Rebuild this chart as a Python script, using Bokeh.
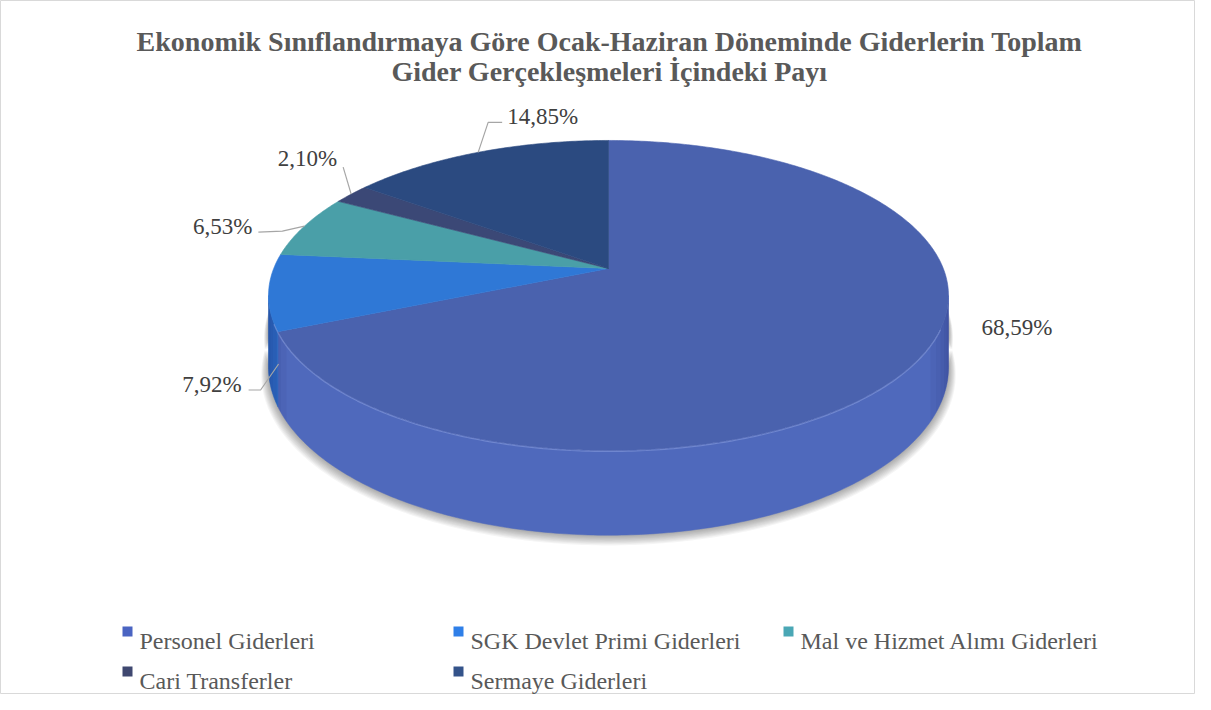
import math
from bokeh.plotting import figure
from bokeh.models import Range1d, ColumnDataSource
from bokeh.core.properties import value
from bokeh.embed import file_html
from bokeh.resources import INLINE

# ---------------- data ----------------
categories = ["Personel Giderleri", "SGK Devlet Primi Giderleri", "Mal ve Hizmet Alımı Giderleri",
              "Cari Transferler", "Sermaye Giderleri"]
shares = [68.59, 7.92, 6.53, 2.10, 14.85]
labels = ["68,59%", "7,92%", "6,53%", "2,10%", "14,85%"]
title_lines = ["Ekonomik Sınıflandırmaya Göre Ocak-Haziran Döneminde Giderlerin Toplam",
               "Gider Gerçekleşmeleri İçindeki Payı"]

# ---------------- style ----------------
top_colors = ["#4a62ae", "#2f78d6", "#4a9fa8", "#3b4876", "#2b4a80"]
side_colors = ["#4f69bc", "#2c6cc6", "#418f98", "#343f68", "#254273"]
legend_colors = ["#4a64c2", "#2f7fe8", "#4aa7b5", "#3f4870", "#34538a"]
SERIF = "Liberation Serif"

W, H = 1195, 694
p = figure(width=W, height=H, x_range=Range1d(0, W), y_range=Range1d(H, 0),
           output_backend="svg", toolbar_location=None, min_border=0)
p.axis.visible = False
p.grid.visible = False
p.outline_line_color = "#d9d9d9"
p.outline_line_width = 1
p.background_fill_color = "white"
p.border_fill_color = "white"

# perspective projection of the tilted pie
CX, CY = 608.0, 268.0
K = 0.174
A = 334.8
B = 150.3
D = 70.0


def proj(theta, drop=0.0, grow=0.0):
    t = math.radians(theta)
    u, v = math.sin(t), math.cos(t)
    s = 1.0 / (1.0 + K * v)
    x = CX + (A + grow) * u * s
    y = CY - (B + grow * 0.45) * v * s + D * s * drop
    return x, y


def arc(a, b, drop=0.0, grow=0.0, n=None):
    if n is None:
        n = max(4, int(abs(b - a) * 1.5))
    return [proj(a + (b - a) * i / n, drop, grow) for i in range(n + 1)]


total = sum(shares)
bounds = [0.0]
for s_ in shares:
    bounds.append(bounds[-1] + 360.0 * s_ / total)

# soft shadow
for g in range(9, 0, -1):
    pts = arc(85, 275, 1.0, grow=g * 0.8) + arc(275, 85, 0.5, grow=g * 0.5)
    p.patch([q[0] for q in pts], [q[1] + g * 0.7 for q in pts], fill_color="black",
            fill_alpha=0.04, line_color=None)

# side walls
vis_a, vis_b = 100.0, 260.0
for i in range(len(shares)):
    a = max(bounds[i], vis_a)
    b = min(bounds[i + 1], vis_b)
    if b <= a:
        continue
    pts = arc(a, b, 0.0) + arc(b, a, 1.0)
    p.patch([q[0] for q in pts], [q[1] for q in pts], fill_color=side_colors[i],
            line_color=side_colors[i], line_width=0.5)
    for step in range(6):
        for (ea, eb) in [(vis_a, vis_a + 3 + step * 3), (vis_b - 3 - step * 3, vis_b)]:
            ra, rb = max(a, ea), min(b, eb)
            if rb > ra:
                pts3 = arc(ra, rb, 0.0) + arc(rb, ra, 1.0)
                p.patch([q[0] for q in pts3], [q[1] for q in pts3], fill_color="#1a2a60",
                        fill_alpha=0.06, line_color=None)

# top faces
for i in range(len(shares)):
    pts = [(CX, CY)] + arc(bounds[i], bounds[i + 1], 0.0)
    p.patch([q[0] for q in pts], [q[1] for q in pts], fill_color=top_colors[i],
            line_color=top_colors[i], line_width=0.6)

edge = arc(112, 250, 0.0)
p.line([q[0] for q in edge], [q[1] + 1.0 for q in edge], line_color="#8fa3e2", line_alpha=0.5, line_width=1.2)

# ---------------- data labels ----------------
label_layout = [
    dict(drop=0.0, leader=[], text=(64, -33), align="left"),
    dict(drop=1.0, leader=[(-18, 26), (-30, 26)], text=(-37, 20), align="right"),
    dict(drop=0.0, leader=[(-22, 5), (-46, 6)], text=(-52, 0), align="right"),
    dict(drop=0.0, leader=[(-8, -27)], text=(-14, -36), align="right"),
    dict(drop=0.0, leader=[(10, -30), (24, -30)], text=(29, -36), align="left"),
]
lx, ly, lt, la = [], [], [], []
for i in range(len(shares)):
    mid = (bounds[i] + bounds[i + 1]) / 2.0
    L = label_layout[i]
    ax_, ay_ = proj(mid, L["drop"])
    if i == 1:
        ax_ += 10
    if L["leader"]:
        xs = [ax_] + [ax_ + o[0] for o in L["leader"]]
        ys = [ay_] + [ay_ + o[1] for o in L["leader"]]
        p.line(xs, ys, line_color="#a6a6a6", line_width=1.2)
    lx.append(ax_ + L["text"][0])
    ly.append(ay_ + L["text"][1])
    lt.append(labels[i])
    la.append(L["align"])
src = ColumnDataSource(dict(x=lx, y=ly, t=lt, a=la))
p.text("x", "y", text="t", source=src, text_align="a", text_baseline="middle",
       text_font=value(SERIF), text_font_size="23px", text_color="#404040")

# ---------------- title ----------------
p.text(x=[609, 609], y=[41, 71], text=title_lines, text_align="center", text_baseline="alphabetic",
       text_font=value(SERIF), text_font_style="bold", text_font_size="28px", text_color="#595959")

# ---------------- legend ----------------
col_x = [127, 458, 788]
row_y = [640, 680]
sx, sy, tx, ty = [], [], [], []
for i, cat in enumerate(categories):
    c = i if i < 3 else (i - 3)
    r = 0 if i < 3 else 1
    sx.append(col_x[c])
    sy.append(row_y[r] - 9)
    tx.append(col_x[c] + 12)
    ty.append(row_y[r])
p.rect(sx, sy, width=10, height=10, fill_color=legend_colors, line_color=None)
p.text(tx, ty, text=categories, text_baseline="alphabetic", text_font=value(SERIF),
       text_font_size="24px", text_color="#595959")

open("out.html", "w").write(file_html(p, INLINE))
